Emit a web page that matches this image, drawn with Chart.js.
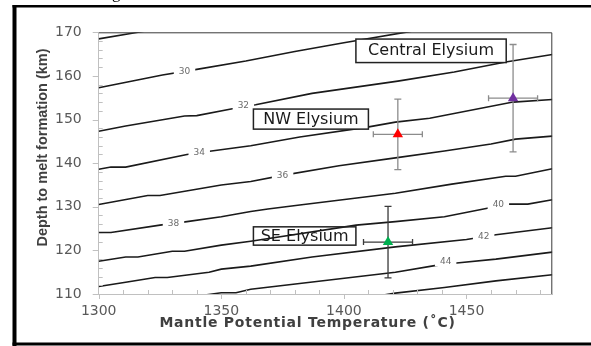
<!DOCTYPE html>
<html>
<head>
<meta charset="utf-8">
<script src="https://cdn.jsdelivr.net/npm/chart.js@4.4.1/dist/chart.umd.min.js"></script>
<style>
  html, body { margin: 0; padding: 0; background: #fff; }
  canvas { display: block; }
</style>
</head>
<body>
<canvas id="myChart" width="591" height="346"></canvas>
<script>
// axis ticks
const tempTicks = [1300, 1350, 1400, 1450];
const depthTicks = [110, 120, 130, 140, 150, 160, 170];

// contour lines, [temperature (C), depth (km)]
const c28 = [[1300, 168.5], [1316, 170.0], [1330, 171.4]];
const c30 = [[1300, 157.3], [1326, 160.2], [1340, 161.5], [1360, 163.4], [1380, 165.6], [1400, 167.6], [1426, 170.1], [1440, 171.4]];
const c32 = [[1300, 147.3], [1311, 148.5], [1335, 150.8], [1340, 150.9], [1354, 152.4], [1364, 153.4], [1387, 156.0], [1422, 158.8], [1445, 160.9], [1466, 163.2], [1485, 164.9]];
const c34 = [[1300, 138.6], [1305, 139.1], [1311, 139.1], [1336, 142.0], [1346, 142.8], [1362, 144.0], [1382, 146.0], [1409, 148.2], [1421, 149.4], [1435, 150.3], [1469, 154.0], [1485, 154.6]];
const c36 = [[1300, 130.5], [1320, 132.6], [1325, 132.6], [1350, 135.0], [1362, 135.8], [1375, 137.2], [1398, 139.4], [1421, 141.2], [1441, 142.8], [1460, 144.4], [1470, 145.5], [1485, 146.2]];
const c38 = [[1300, 124.1], [1305, 124.1], [1325, 125.8], [1336, 126.6], [1350, 127.7], [1362, 128.9], [1369, 129.5], [1382, 130.4], [1421, 133.1], [1444, 135.2], [1466, 137.0], [1470, 137.0], [1485, 138.7]];
const c40 = [[1300, 117.5], [1311, 118.5], [1316, 118.5], [1330, 119.8], [1335, 119.8], [1350, 121.2], [1362, 122.1], [1405, 125.8], [1421, 126.6], [1441, 127.7], [1458, 129.6], [1467, 130.6], [1475, 130.6], [1485, 131.6]];
const c42 = [[1300, 111.7], [1311, 112.7], [1323, 113.8], [1328, 113.8], [1345, 115.0], [1350, 115.7], [1362, 116.4], [1387, 118.5], [1421, 120.8], [1450, 122.5], [1462, 123.6], [1485, 125.2]];
const c44 = [[1320, 107.6], [1334, 108.8], [1339, 109.4], [1350, 110.3], [1356, 110.3], [1362, 111.1], [1421, 115.0], [1437, 116.5], [1446, 117.1], [1462, 118.0], [1485, 119.6]];
const c46 = [[1400, 108.3], [1421, 110.2], [1441, 111.5], [1462, 113.0], [1485, 114.4]];
const contours = [c28, c30, c32, c34, c36, c38, c40, c42, c44, c46];

// contour labels
const labelText = ['30', '32', '34', '36', '38', '40', '42', '44'];
const labelTemp = [1335, 1359, 1341, 1375, 1330.5, 1463, 1457, 1441.5];
const labelDepth = [161.0, 153.1, 142.3, 137.2, 126.1, 130.4, 123.1, 117.5];

// sites
const sites = ['NW Elysium', 'Central Elysium', 'SE Elysium'];
const siteTemp = [1422, 1469, 1418];
const siteDepth = [146.6, 154.9, 121.9];
const tempErr = [10, 10, 10];
const depthErr = [8.1, 12.3, 8.2];

const siteColors = ['#ff0000', '#7030a0', '#00b050'];
const errColors = ['#8c8c8c', '#8c8c8c', '#3a3a3a'];
// name boxes in data coords
const boxes = [
  { x0: 1363.1, x1: 1410.0, y0: 152.4, y1: 147.8, fill: true },
  { x0: 1404.9, x1: 1466.2, y0: 168.45, y1: 163.06, fill: true },
  { x0: 1363.1, x1: 1404.9, y0: 125.4, y1: 121.2, fill: false }
];

const xMin = 1300, xMax = 1485, yMin = 110, yMax = 170;

const overlay = {
  id: 'overlay',
  beforeDraw(chart) {
    const c = chart.ctx;
    c.save();
    c.fillStyle = '#fff';
    c.fillRect(0, 0, chart.width, chart.height);
    c.fillStyle = '#000';
    c.fillRect(12.5, 5, 4, 341);
    c.fillRect(12.5, 5, 579, 2.5);
    c.fillRect(12.5, 342.5, 579, 3);
    // bit of the caption above, cut off
    c.font = '17px "Liberation Serif"';
    c.fillText('g', 112, -2);
    c.restore();
  },
  beforeDatasetDraw(chart, args) {
    if (args.index !== 0) return;
    const c = chart.ctx;
    const xs = chart.scales.x, ys = chart.scales.y;
    c.save();
    // contour labels
    c.font = '9px "DejaVu Sans"';
    c.textAlign = 'center';
    c.textBaseline = 'middle';
    for (let i = 0; i < labelText.length; i++) {
      const px = xs.getPixelForValue(labelTemp[i]);
      const py = ys.getPixelForValue(labelDepth[i]);
      const w = c.measureText(labelText[i]).width + 10;
      c.fillStyle = '#fff';
      c.fillRect(px - w / 2, py - 5, w, 10);
      c.fillStyle = '#6b6b6b';
      c.fillText(labelText[i], px, py);
    }
    // name boxes
    c.font = '16px "DejaVu Sans"';
    for (let i = 0; i < boxes.length; i++) {
      const b = boxes[i];
      const x0 = xs.getPixelForValue(b.x0), x1 = xs.getPixelForValue(b.x1);
      const y0 = ys.getPixelForValue(b.y0), y1 = ys.getPixelForValue(b.y1);
      if (b.fill) {
        c.fillStyle = '#fff';
        c.fillRect(x0, y0, x1 - x0, y1 - y0);
      }
      c.strokeStyle = '#222';
      c.lineWidth = 1.5;
      c.strokeRect(x0, y0, x1 - x0, y1 - y0);
      c.fillStyle = '#1a1a1a';
      c.fillText(sites[i], (x0 + x1) / 2, (y0 + y1) / 2 + 0.5);
    }
    // error bars
    for (let i = 0; i < sites.length; i++) {
      const px = xs.getPixelForValue(siteTemp[i]);
      const py = ys.getPixelForValue(siteDepth[i]);
      const xl = xs.getPixelForValue(siteTemp[i] - tempErr[i]);
      const xr = xs.getPixelForValue(siteTemp[i] + tempErr[i]);
      const yt = ys.getPixelForValue(siteDepth[i] + depthErr[i]);
      const yb = ys.getPixelForValue(siteDepth[i] - depthErr[i]);
      c.strokeStyle = errColors[i];
      c.lineWidth = 1.3;
      c.beginPath();
      c.moveTo(xl, py); c.lineTo(xr, py);
      c.moveTo(xl, py - 3); c.lineTo(xl, py + 3);
      c.moveTo(xr, py - 3); c.lineTo(xr, py + 3);
      c.moveTo(px, yt); c.lineTo(px, yb);
      c.moveTo(px - 3.5, yt); c.lineTo(px + 3.5, yt);
      c.moveTo(px - 3.5, yb); c.lineTo(px + 3.5, yb);
      c.stroke();
    }
    c.restore();
  },
  afterDraw(chart) {
    const c = chart.ctx;
    const xs = chart.scales.x, ys = chart.scales.y;
    const a = chart.chartArea;
    c.save();
    c.lineWidth = 1;
    // top and right frame of the plot
    c.strokeStyle = '#3a3a3a';
    c.beginPath();
    c.moveTo(a.left, a.top + 0.5); c.lineTo(a.right - 0.5, a.top + 0.5); c.lineTo(a.right - 0.5, a.bottom);
    c.stroke();
    // tick marks
    c.strokeStyle = '#c0c0c0';
    c.beginPath();
    for (let v = yMin; v <= yMax; v += 2) {
      const py = Math.round(ys.getPixelForValue(v)) + 0.5;
      if (v % 10 === 0) { c.moveTo(a.left - 6, py); c.lineTo(a.left, py); }
      else { c.moveTo(a.left, py); c.lineTo(a.left + 4, py); }
    }
    for (let v = xMin; v <= xMax; v += 10) {
      const px = Math.round(xs.getPixelForValue(v)) + 0.5;
      if (v % 50 === 0) { c.moveTo(px, a.bottom); c.lineTo(px, a.bottom + 5); }
      else { c.moveTo(px, a.bottom - 4); c.lineTo(px, a.bottom); }
    }
    c.stroke();
    // axis titles
    c.fillStyle = '#404040';
    c.textAlign = 'center';
    c.textBaseline = 'middle';
    c.font = 'bold 14px "DejaVu Sans"';
    c.letterSpacing = '0.75px';
    c.fillText('Mantle Potential Temperature (˚C)', 307.5, 323.5);
    c.letterSpacing = '0px';
    c.translate(43, 147.5);
    c.rotate(-Math.PI / 2);
    c.font = 'bold 14.5px "Liberation Sans"';
    c.fillText('Depth to melt formation (km)', 0, 0);
    c.restore();
  }
};

const datasets = [{
  label: 'sites',
  data: siteTemp.map((t, i) => ({ x: t, y: siteDepth[i] })),
  pointStyle: 'triangle',
  pointRadius: 6,
  pointHoverRadius: 6,
  backgroundColor: siteColors,
  borderWidth: 0,
  showLine: false,
  order: 0
}];
contours.forEach((line, i) => {
  datasets.push({
    label: 'contour' + i,
    data: line.map(p => ({ x: p[0], y: p[1] })),
    showLine: true,
    borderColor: '#1a1a1a',
    borderWidth: 1.6,
    pointRadius: 0,
    tension: 0,
    clip: 0,
    order: 1
  });
});

const config = {
  type: 'scatter',
  data: { datasets },
  options: {
    responsive: false,
    animation: false,
    events: [],
    layout: { padding: { left: 38.7, right: 38.7, top: 32.3, bottom: 12 } },
    plugins: { legend: { display: false }, tooltip: { enabled: false } },
    scales: {
      x: {
        type: 'linear', min: xMin, max: xMax,
        afterBuildTicks: s => { s.ticks = tempTicks.map(v => ({ value: v })); },
        afterFit: s => { s.height = 40; },
        grid: { display: false, drawTicks: false },
        border: { display: true, color: '#c0c0c0', width: 1 },
        ticks: { padding: 9, color: '#595959', font: { family: 'DejaVu Sans', size: 14 }, maxRotation: 0, callback: v => String(v) }
      },
      y: {
        type: 'linear', min: yMin, max: yMax,
        afterBuildTicks: s => { s.ticks = depthTicks.map(v => ({ value: v })); },
        afterFit: s => { s.width = 60; },
        grid: { display: false, drawTicks: false },
        border: { display: true, color: '#c0c0c0', width: 1 },
        ticks: { padding: 17, color: '#595959', font: { family: 'DejaVu Sans', size: 14 }, callback: v => String(v) }
      }
    }
  },
  plugins: [overlay]
};

const myChart = new Chart(document.getElementById('myChart'), config);
</script>
</body>
</html>
